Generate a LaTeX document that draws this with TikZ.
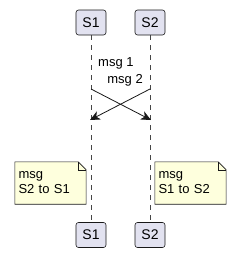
\documentclass[tikz,border=0pt]{standalone}
\usepackage{fontspec}
\setmainfont{Liberation Sans}
\usetikzlibrary{arrows.meta,calc,positioning}
\definecolor{Ink}{HTML}{181818}
\definecolor{PartFill}{HTML}{E2E2F0}
\definecolor{NoteFill}{HTML}{FEFFDD}

\begin{document}
\begin{tikzpicture}[x=1bp,y=-1bp,
          participant/.style={draw=Ink,fill=PartFill,rounded corners=2.5bp,line width=0.6bp,
            minimum width=30bp,minimum height=25bp,inner sep=0pt,font=\fontsize{14bp}{16bp}\selectfont},
          lifeline/.style={draw=Ink!80,line width=0.6bp,dash pattern=on 5bp off 5bp},
          msg/.style={-{Stealth[length=10bp,width=9bp,inset=3bp]},draw=Ink,line width=0.8bp},
          msglabel/.style={inner sep=0pt,font=\fontsize{13bp}{15bp}\selectfont},
          note/.style={inner sep=0pt,minimum width=71bp,minimum height=42bp,align=left,
            text width=64bp,font=\fontsize{13bp}{15bp}\selectfont}]
        \useasboundingbox (0,0) rectangle (241,262);
        % lifelines first, boxes on top
        \coordinate (s1head) at (91,35);
        \coordinate (s1foot) at (91,220);
        \coordinate (s2head) at (150,35);
        \coordinate (s2foot) at (150,220);
        \draw[lifeline] (s1head) -- (s1foot);
        \draw[lifeline] (s2head) -- (s2foot);
        \node[participant] (s1top) at (91,22.5) {S1};
        \node[participant] (s2top) at (150,22.5) {S2};
        \node[participant] (s1bot) at (91,235) {S1};
        \node[participant] (s2bot) at (150,235) {S2};
        % crossing messages
        \coordinate (s1from) at (91,89);
        \coordinate (s2to) at (151,120);
        \coordinate (s2from) at (150,89);
        \coordinate (s1to) at (90,120);
        \node[msglabel,anchor=west] (lblone) at (98,63) {msg 1};
        \node[msglabel,anchor=east] (lbltwo) at (143,80) {msg 2};
        \draw[msg] (s1from) -- (s2to);
        \draw[msg] (s2from) -- (s1to);
        % notes with folded corner
        \node[note] (noteleft) at (50.5,183) {};
        \node[note] (noteright) at (190.5,183) {};
        \foreach \n in {noteleft,noteright}{
          \draw[draw=Ink,fill=NoteFill,line width=0.6bp]
            (\n.north west) -- ($(\n.north east)+(-8,0)$) -- ($(\n.north east)+(0,8)$)
            -- (\n.south east) -- (\n.south west) -- cycle;
          \draw[draw=Ink,line width=0.6bp]
            ($(\n.north east)+(-8,0)$) -- ($(\n.north east)+(-8,8)$) -- ($(\n.north east)+(0,8)$);
        }
        \node[note] (notelefttext) at (noteleft) {msg\\S2 to S1};
        \node[note] (noterighttext) at (noteright) {msg\\S1 to S2};
      \end{tikzpicture}
\end{document}
